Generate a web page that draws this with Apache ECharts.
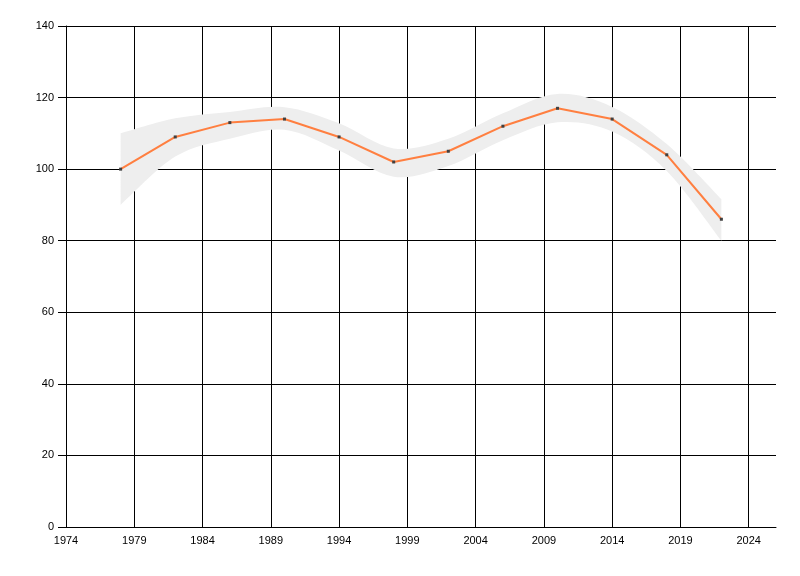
<!DOCTYPE html>
<html>
<head>
<meta charset="utf-8">
<script src="https://cdn.jsdelivr.net/npm/echarts@6/dist/echarts.min.js"></script>
<style>
html,body{margin:0;padding:0;background:#fff;}
#chart{width:800px;height:576px;}
</style>
</head>
<body>
<div id="chart"></div>
<script>
var years = [1978, 1982, 1986, 1990, 1994, 1998, 2002, 2006, 2010, 2014, 2018, 2022];
var values = [100, 109, 113, 114, 109, 102, 105, 112, 117, 114, 104, 86];
var bandUpper = [110, 114.2, 116, 117.3, 112.8, 105.8, 108.5, 115.6, 121, 117.4, 107, 91.6];
var bandLower = [90, 103.5, 108.5, 111, 105.2, 97.9, 100.9, 108.1, 113.1, 110.5, 99.5, 80];
var xTicks = [1974, 1979, 1984, 1989, 1994, 1999, 2004, 2009, 2014, 2019, 2024];

var lineData = years.map(function (y, i) { return [y, values[i]]; });
var bandData = years.map(function (y, i) { return [y, bandLower[i], bandUpper[i]]; });

function splinePath(pts, moveFirst) {
  var d = (moveFirst ? 'M' : 'L') + pts[0][0] + ' ' + pts[0][1];
  var t = 0.5;
  for (var i = 0; i < pts.length - 1; i++) {
    var p0 = pts[Math.max(i - 1, 0)], p1 = pts[i], p2 = pts[i + 1], p3 = pts[Math.min(i + 2, pts.length - 1)];
    var c1x = p1[0] + (p2[0] - p0[0]) * t / 3, c1y = p1[1] + (p2[1] - p0[1]) * t / 3;
    var c2x = p2[0] - (p3[0] - p1[0]) * t / 3, c2y = p2[1] - (p3[1] - p1[1]) * t / 3;
    d += ' C' + c1x + ' ' + c1y + ' ' + c2x + ' ' + c2y + ' ' + p2[0] + ' ' + p2[1];
  }
  return d;
}

var font = 'Liberation Sans';
var chart = echarts.init(document.getElementById('chart'), null, {renderer: 'canvas'});
chart.setOption({
  animation: false,
  backgroundColor: '#ffffff',
  grid: {left: 66, top: 26, right: 24, bottom: 49, containLabel: false},
  xAxis: {
    type: 'value',
    min: 1974,
    max: 2026,
    axisLine: {show: true, onZero: false, lineStyle: {color: '#000', width: 1}},
    axisTick: {show: false, customValues: xTicks},
    axisLabel: {customValues: xTicks, color: '#000', fontFamily: font, fontSize: 11, margin: 8,
      formatter: function (v) { return String(v); }},
    splitLine: {show: true, lineStyle: {color: '#000', width: 1}}
  },
  yAxis: {
    type: 'value',
    min: 0,
    max: 140,
    interval: 20,
    axisLine: {show: true, lineStyle: {color: '#000', width: 1}},
    axisTick: {show: true, length: 8, lineStyle: {color: '#000'}},
    axisLabel: {color: '#000', fontFamily: font, fontSize: 11, margin: 12},
    splitLine: {show: true, lineStyle: {color: '#000', width: 1}}
  },
  series: [
    {
      type: 'custom',
      name: 'band',
      data: bandData,
      encode: {x: 0, y: [1, 2]},
      silent: true,
      z: 1,
      renderItem: function (params, api) {
        if (params.dataIndex !== 0) return null;
        var up = [], lo = [];
        for (var i = 0; i < years.length; i++) {
          up.push(api.coord([years[i], bandUpper[i]]));
          lo.push(api.coord([years[i], bandLower[i]]));
        }
        lo.reverse();
        var d = splinePath(up, true) + ' ' + splinePath(lo, false) + ' Z';
        return {
          type: 'path',
          shape: {pathData: d},
          style: {fill: '#eeeeee', stroke: null}
        };
      }
    },
    {
      type: 'line', name: 'value', data: lineData, smooth: false, z: 3,
      symbol: 'rect', symbolSize: 3, showSymbol: true,
      lineStyle: {color: '#ff7f40', width: 2},
      itemStyle: {color: '#404040'}
    }
  ]
});
</script>
</body>
</html>
